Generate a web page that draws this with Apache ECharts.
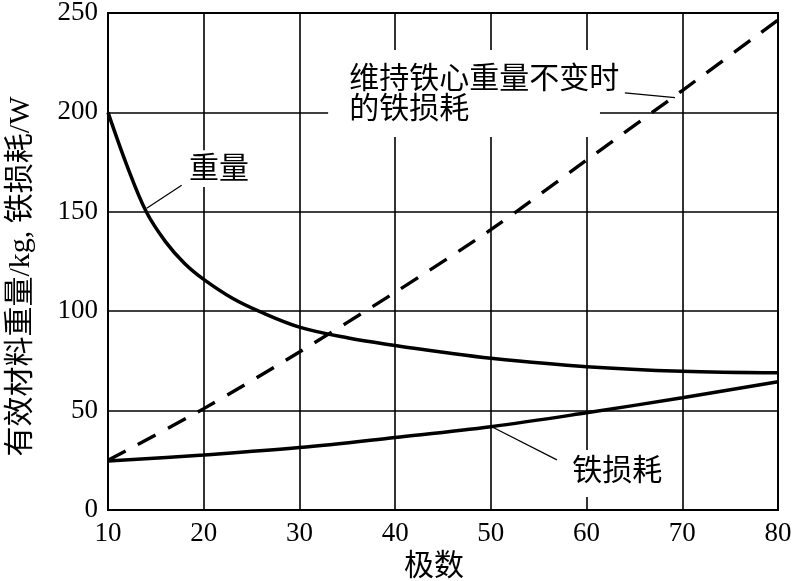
<!DOCTYPE html>
<html>
<head>
<meta charset="utf-8">
<script src="https://cdn.jsdelivr.net/npm/echarts@6/dist/echarts.min.js"></script>
<style>html,body{margin:0;padding:0;background:#fff}#c{width:793px;height:581px}</style>
</head>
<body>
<div id="c"></div>
<script>
// Data
const weightData = [[10,200],[12,173],[14,150],[16,135],[18,124],[20,116],[23,106.5],[26,99.5],[30,92],[35,86.6],[40,82.7],[45,79.3],[50,76.3],[60,72.1],[70,69.8],[80,69]];
const ironLossData = [[10,24.6],[20,27.7],[30,31.4],[40,36.5],[50,41.9],[60,48.9],[70,56.5],[80,64.5]];
const constCoreLossData = [[10,25],[20,51],[30,79.5],[40,109.5],[50,141],[60,176],[70,211],[80,246.5]];

const xName = '极数';
const yName = '有效材料重量/kg, 铁损耗/W';

// annotations (data coordinates)
const labelTexts = ['重量', '维持铁心重量不变时\n的铁损耗', '铁损耗'];
const labelAnchors = [[21.6,171],[35.2,208.5],[63.2,19.1]];
const labelBoxes = [[[18.6,181],[24.8,162.5]],[[33,231.4],[61.4,187.6]],[[58.1,30.2],[68.3,6.5]]];
const leaderLines = [[[17.7,163.4],[14.04,151.8]],[[64.0,209.8],[69.24,207.4]],[[56.9,25.2],[50.2,41.6]]];

const FONT_NUM = '"Liberation Serif", "Noto Sans CJK SC", serif';
const FONT_CJK = '"Liberation Serif", "Noto Sans CJK SC", sans-serif';

const chart = echarts.init(document.getElementById('c'), null, {renderer:'canvas'});
chart.setOption({
  animation: false,
  backgroundColor: '#fff',
  grid: {left:108, right:15, top:13, bottom:71, containLabel:false, outerBoundsMode:'none',
         show:true, borderColor:'#000', borderWidth:2},
  xAxis: {
    type:'value', min:10, max:80, interval:10,
    name: xName, nameLocation:'middle', nameGap:41,
    nameTextStyle:{fontFamily:FONT_CJK, fontSize:30, color:'#000', padding:[0,18,0,0]},
    axisLine:{show:true, lineStyle:{color:'#000', width:2}},
    axisTick:{show:false},
    axisLabel:{fontFamily:FONT_NUM, fontSize:27, color:'#000', margin:10},
    splitLine:{show:true, lineStyle:{color:'#000', width:1.6}}
  },
  yAxis: {
    type:'value', min:0, max:250, interval:50,
    name: yName, nameLocation:'middle', nameGap:72, nameRotate:90,
    nameTextStyle:{fontFamily:FONT_CJK, fontSize:30, color:'#000', padding:[0,30,0,0]},
    axisLine:{show:true, lineStyle:{color:'#000', width:2}},
    axisTick:{show:false},
    axisLabel:{fontFamily:FONT_NUM, fontSize:27, color:'#000', margin:10},
    splitLine:{show:true, lineStyle:{color:'#000', width:1.6}}
  },
  series: [
    {
      name:'重量', type:'line', data: weightData, smooth:0.35, showSymbol:false, symbol:'none',
      lineStyle:{color:'#000', width:3.5}, z:5
    },
    {
      name:'铁损耗', type:'line', data: ironLossData, smooth:0.35, showSymbol:false, symbol:'none',
      lineStyle:{color:'#000', width:3.5}, z:5,
      markArea:{
        silent:true,
        itemStyle:{color:'#fff', borderWidth:0},
        label:{show:false},
        data: labelBoxes.map(b => [{coord:b[0]},{coord:b[1]}])
      },
      markLine:{
        silent:true, symbol:['none','none'],
        lineStyle:{color:'#000', width:1.2, type:'solid'},
        label:{show:false},
        data: leaderLines.map(l => [{coord:l[0]},{coord:l[1]}])
      },
      markPoint:{
        silent:true, symbol:'circle', symbolSize:0,
        data: labelTexts.map((t,i) => ({
          coord: labelAnchors[i], value: t,
          label:{
            show:true, formatter: t,
            position: i === 1 ? 'right' : 'inside', distance:0,
            align: i === 1 ? 'left' : 'center',
            fontFamily:FONT_CJK, fontSize:30, lineHeight:30, color:'#000'
          }
        }))
      }
    },
    {
      name:'维持铁心重量不变时的铁损耗', type:'line', data: constCoreLossData, smooth:0.3, showSymbol:false, symbol:'none',
      lineStyle:{color:'#000', width:3.4, type:[20,14]}, z:5
    }
  ]
});
</script>
</body>
</html>
